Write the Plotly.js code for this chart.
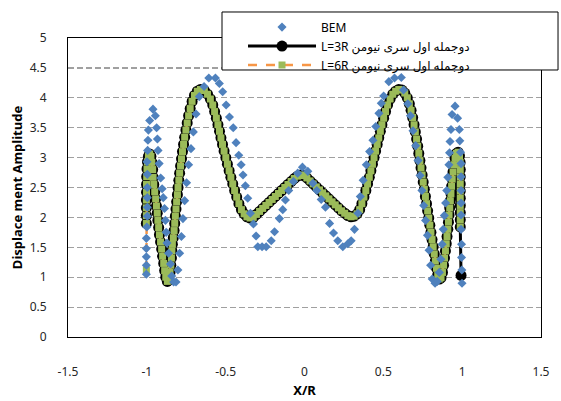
<!DOCTYPE html>
<html>
<head>
<meta charset="utf-8">
<script src="https://cdn.plot.ly/plotly-3.0.1.min.js"></script>
<style>html,body{margin:0;padding:0;background:#fff}#chart{width:561px;height:401px}</style>
</head>
<body>
<div id="chart"></div>
<script>
// BEM series
const bemX = [-1.003,-1.003,-1.003,-1.003,-1.003,-1.0,-0.997,-0.997,-0.997,-0.997,-0.997,-0.999,-0.995,-0.993,-0.99,-0.982,-0.961,-0.946,-0.938,-0.933,-0.929,-0.922,-0.912,-0.903,-0.896,-0.888,-0.882,-0.877,-0.872,-0.862,-0.85,-0.842,-0.83,-0.815,-0.803,-0.792,-0.781,-0.771,-0.76,-0.748,-0.735,-0.72,-0.705,-0.688,-0.667,-0.637,-0.607,-0.565,-0.54,-0.519,-0.497,-0.476,-0.452,-0.434,-0.417,-0.402,-0.39,-0.375,-0.36,-0.343,-0.324,-0.307,-0.296,-0.269,-0.243,-0.211,-0.19,-0.159,-0.138,-0.121,-0.1,-0.07,-0.043,-0.013,0.021,0.053,0.078,0.106,0.133,0.159,0.184,0.211,0.243,0.275,0.296,0.317,0.339,0.354,0.372,0.392,0.413,0.434,0.452,0.472,0.487,0.502,0.535,0.571,0.614,0.628,0.655,0.672,0.688,0.705,0.72,0.733,0.745,0.756,0.768,0.78,0.79,0.8,0.81,0.828,0.842,0.855,0.865,0.873,0.88,0.887,0.895,0.902,0.909,0.916,0.92,0.923,0.929,0.936,0.955,0.971,0.982,0.985,0.99,0.993,0.993,0.993,0.993,0.993,0.993,0.996,0.996,0.998,0.999];
const bemY = [1.05,1.2,1.34,1.48,1.65,1.84,2.02,2.17,2.33,2.5,2.72,2.93,3.12,3.29,3.46,3.62,3.81,3.7,3.5,3.31,3.12,2.9,2.66,2.48,2.33,2.15,1.95,1.75,1.57,1.4,1.22,1.02,0.92,0.92,1.12,1.4,1.68,1.98,2.28,2.58,2.88,3.15,3.43,3.73,4.02,4.19,4.33,4.33,4.24,4.1,3.88,3.68,3.5,3.25,3.04,2.88,2.71,2.53,2.32,2.07,1.89,1.69,1.51,1.51,1.51,1.61,1.76,1.98,2.13,2.29,2.45,2.6,2.74,2.84,2.77,2.57,2.45,2.3,2.17,1.9,1.74,1.61,1.51,1.56,1.61,1.8,2.07,2.35,2.62,2.88,3.1,3.29,3.52,3.74,3.91,4.03,4.27,4.33,4.34,4.13,3.9,3.7,3.45,3.2,2.95,2.7,2.45,2.2,1.95,1.7,1.45,1.2,0.97,0.9,0.93,1.08,1.3,1.55,1.8,2.03,2.24,2.45,2.67,2.88,3.08,3.27,3.47,3.72,3.86,3.66,3.47,3.28,3.09,2.9,2.68,2.45,2.24,2.04,1.8,1.55,1.33,1.12,0.9];

// Neumann series, first two terms, L=3R
const l3X = [-1.003,-1.003,-1.003,-1.003,-1.002,-1.002,-1.001,-0.999,-0.996,-0.99,-0.982,-0.974,-0.968,-0.963,-0.96,-0.956,-0.95,-0.944,-0.939,-0.934,-0.93,-0.925,-0.92,-0.913,-0.906,-0.9,-0.893,-0.887,-0.88,-0.87,-0.86,-0.853,-0.848,-0.844,-0.841,-0.838,-0.832,-0.827,-0.823,-0.819,-0.815,-0.811,-0.806,-0.802,-0.797,-0.792,-0.786,-0.78,-0.774,-0.767,-0.76,-0.752,-0.744,-0.735,-0.725,-0.713,-0.698,-0.68,-0.66,-0.635,-0.615,-0.597,-0.582,-0.57,-0.559,-0.549,-0.539,-0.53,-0.52,-0.51,-0.499,-0.489,-0.478,-0.467,-0.455,-0.443,-0.43,-0.416,-0.4,-0.383,-0.365,-0.345,-0.325,-0.305,-0.285,-0.265,-0.245,-0.225,-0.205,-0.185,-0.165,-0.145,-0.125,-0.105,-0.085,-0.065,-0.045,-0.025,-0.005,0.015,0.035,0.055,0.075,0.095,0.115,0.135,0.155,0.175,0.195,0.215,0.235,0.255,0.275,0.295,0.315,0.333,0.35,0.364,0.377,0.389,0.4,0.411,0.421,0.431,0.441,0.451,0.461,0.471,0.481,0.491,0.502,0.514,0.527,0.543,0.56,0.578,0.598,0.618,0.636,0.652,0.665,0.676,0.686,0.695,0.703,0.711,0.718,0.725,0.732,0.739,0.746,0.753,0.76,0.767,0.774,0.781,0.788,0.795,0.802,0.809,0.816,0.823,0.83,0.837,0.845,0.855,0.866,0.875,0.882,0.888,0.894,0.899,0.904,0.909,0.913,0.917,0.921,0.925,0.929,0.933,0.937,0.942,0.948,0.955,0.964,0.974,0.983,0.987,0.988,0.988,0.988,0.988,0.988,0.988,0.988,0.988,0.988,0.993];
const l3Y = [1.9,2.03,2.16,2.29,2.42,2.55,2.68,2.81,2.93,3.02,3.06,3.02,2.92,2.8,2.67,2.55,2.43,2.31,2.19,2.07,1.95,1.83,1.71,1.59,1.47,1.35,1.23,1.11,1.0,0.93,0.97,1.08,1.2,1.32,1.44,1.55,1.66,1.78,1.9,2.02,2.14,2.26,2.38,2.5,2.62,2.74,2.86,2.98,3.1,3.22,3.34,3.46,3.58,3.7,3.82,3.94,4.04,4.11,4.14,4.12,4.06,3.98,3.88,3.77,3.66,3.55,3.44,3.33,3.22,3.11,3.0,2.89,2.78,2.67,2.56,2.45,2.34,2.23,2.13,2.06,2.01,1.99,2.0,2.05,2.1,2.15,2.2,2.25,2.3,2.35,2.4,2.45,2.5,2.55,2.6,2.65,2.69,2.71,2.7,2.66,2.61,2.56,2.51,2.46,2.41,2.36,2.31,2.26,2.21,2.16,2.11,2.07,2.03,2.01,2.02,2.06,2.13,2.23,2.34,2.45,2.56,2.67,2.78,2.89,3.0,3.11,3.22,3.33,3.44,3.55,3.66,3.77,3.88,3.98,4.06,4.11,4.14,4.13,4.08,4.0,3.9,3.79,3.67,3.55,3.43,3.31,3.19,3.07,2.95,2.83,2.71,2.59,2.47,2.35,2.23,2.11,1.99,1.87,1.75,1.63,1.51,1.39,1.27,1.15,1.04,0.97,0.99,1.08,1.2,1.32,1.44,1.56,1.68,1.8,1.92,2.04,2.16,2.28,2.4,2.52,2.64,2.76,2.88,2.99,3.07,3.09,3.03,2.92,2.8,2.68,2.56,2.44,2.32,2.2,2.08,1.96,1.84,1.03];

// Neumann series, first two terms, L=6R
const l6X = [-1.003,-1.003,-1.003,-1.003,-1.003,-1.002,-1.002,-1.001,-0.999,-0.996,-0.99,-0.982,-0.974,-0.968,-0.963,-0.96,-0.956,-0.95,-0.944,-0.939,-0.934,-0.93,-0.925,-0.92,-0.913,-0.906,-0.9,-0.893,-0.887,-0.88,-0.87,-0.86,-0.853,-0.848,-0.844,-0.841,-0.838,-0.832,-0.827,-0.823,-0.819,-0.815,-0.811,-0.806,-0.802,-0.797,-0.792,-0.786,-0.78,-0.774,-0.767,-0.76,-0.752,-0.744,-0.735,-0.725,-0.713,-0.698,-0.68,-0.66,-0.635,-0.615,-0.597,-0.582,-0.57,-0.559,-0.549,-0.539,-0.53,-0.52,-0.51,-0.499,-0.489,-0.478,-0.467,-0.455,-0.443,-0.43,-0.416,-0.4,-0.383,-0.365,-0.345,-0.325,-0.305,-0.285,-0.265,-0.245,-0.225,-0.205,-0.185,-0.165,-0.145,-0.125,-0.105,-0.085,-0.065,-0.045,-0.025,-0.005,0.015,0.035,0.055,0.075,0.095,0.115,0.135,0.155,0.175,0.195,0.215,0.235,0.255,0.275,0.295,0.315,0.333,0.35,0.364,0.377,0.389,0.4,0.411,0.421,0.431,0.441,0.451,0.461,0.471,0.481,0.491,0.502,0.514,0.527,0.543,0.56,0.578,0.598,0.618,0.636,0.652,0.665,0.676,0.686,0.695,0.703,0.711,0.718,0.725,0.732,0.739,0.746,0.753,0.76,0.767,0.774,0.781,0.788,0.795,0.802,0.809,0.816,0.823,0.83,0.837,0.845,0.855,0.866,0.875,0.882,0.888,0.894,0.899,0.904,0.909,0.913,0.917,0.921,0.925,0.929,0.933,0.937,0.942,0.948,0.955,0.964,0.974,0.983,0.987,0.988,0.988,0.988,0.988,0.988,0.988,0.988,0.988,0.988];
const l6Y = [1.12,1.9,2.03,2.16,2.29,2.42,2.55,2.68,2.81,2.93,3.02,3.06,3.02,2.92,2.8,2.67,2.55,2.43,2.31,2.19,2.07,1.95,1.83,1.71,1.59,1.47,1.35,1.23,1.11,1.0,0.93,0.97,1.08,1.2,1.32,1.44,1.55,1.66,1.78,1.9,2.02,2.14,2.26,2.38,2.5,2.62,2.74,2.86,2.98,3.1,3.22,3.34,3.46,3.58,3.7,3.82,3.94,4.04,4.11,4.14,4.12,4.06,3.98,3.88,3.77,3.66,3.55,3.44,3.33,3.22,3.11,3.0,2.89,2.78,2.67,2.56,2.45,2.34,2.23,2.13,2.06,2.01,1.99,2.0,2.05,2.1,2.15,2.2,2.25,2.3,2.35,2.4,2.45,2.5,2.55,2.6,2.65,2.69,2.71,2.7,2.66,2.61,2.56,2.51,2.46,2.41,2.36,2.31,2.26,2.21,2.16,2.11,2.07,2.03,2.01,2.02,2.06,2.13,2.23,2.34,2.45,2.56,2.67,2.78,2.89,3.0,3.11,3.22,3.33,3.44,3.55,3.66,3.77,3.88,3.98,4.06,4.11,4.14,4.13,4.08,4.0,3.9,3.79,3.67,3.55,3.43,3.31,3.19,3.07,2.95,2.83,2.71,2.59,2.47,2.35,2.23,2.11,1.99,1.87,1.75,1.63,1.51,1.39,1.27,1.15,1.04,0.97,0.99,1.08,1.2,1.32,1.44,1.56,1.68,1.8,1.92,2.04,2.16,2.28,2.4,2.52,2.64,2.76,2.88,2.99,3.07,3.09,3.03,2.92,2.8,2.68,2.56,2.44,2.32,2.2,2.08,1.96,1.84];

const seriesNames = ["BEM", "L=3R دوجمله اول سری نیومن", "L=6R دوجمله اول سری نیومن"];
const xTickVals = [-1.5,-1,-0.5,0,0.5,1,1.5];
const xTickText = ["-1.5","-1","-0.5","0","0.5","1","1.5"];
const yTickVals = [0,0.5,1,1.5,2,2.5,3,3.5,4,4.5,5];
const yTickText = ["0","0.5","1","1.5","2","2.5","3","3.5","4","4.5","5"];

const FONT = "Noto Sans, DejaVu Sans, sans-serif";

const traces = [
  {x: l3X, y: l3Y, name: seriesNames[1], type: "scatter", mode: "lines+markers",
   line: {color: "#000000", width: 3},
   marker: {symbol: "circle", size: 11, color: "#000000"}, legendrank: 2},
  {x: l6X, y: l6Y, name: seriesNames[2], type: "scatter", mode: "lines+markers",
   line: {color: "#F79646", width: 2.5, dash: "dash"},
   marker: {symbol: "square", size: 7, color: "#9BBB59"}, legendrank: 3},
  {x: bemX, y: bemY, name: seriesNames[0], type: "scatter", mode: "markers",
   marker: {symbol: "diamond", size: 7, color: "#4F81BD"}, legendrank: 1}
];

const layout = {
  width: 561, height: 401,
  margin: {l: 68, r: 20, t: 38, b: 64, autoexpand: false},
  paper_bgcolor: "#ffffff", plot_bgcolor: "#ffffff",
  font: {family: FONT, size: 12, color: "#262626"},
  showlegend: true,
  legend: {x: 0.37, y: 1.085, xanchor: "left", yanchor: "top",
    bgcolor: "rgba(0,0,0,0)", borderwidth: 0, itemwidth: 68,
    font: {family: FONT, size: 12, color: "#000"}, tracegroupgap: 0},
  xaxis: {range: [-1.5, 1.5], tickmode: "array", tickvals: xTickVals, ticktext: xTickText,
    showgrid: false, zeroline: false, showline: true, mirror: true, linecolor: "#000", linewidth: 1,
    ticks: "", ticklabelstandoff: 24, tickfont: {size: 12, color: "#262626"},
    title: {text: "<b>X/R</b>", font: {size: 13, color: "#000"}, standoff: 6}},
  yaxis: {range: [0, 5], tickmode: "array", tickvals: yTickVals, ticktext: yTickText,
    showgrid: true, gridcolor: "#A0A0A0", griddash: "6px,3px", gridwidth: 1.2,
    zeroline: false, showline: true, mirror: true, linecolor: "#000", linewidth: 1,
    ticks: "", ticklabelstandoff: 18, tickfont: {size: 12, color: "#262626"},
    title: {text: "<b>Displace ment Amplitude</b>", font: {size: 13, color: "#000"}, standoff: 4}},
  shapes: [{type: "rect", xref: "paper", yref: "paper", x0: 0.3256, x1: 1.036, y0: 0.893, y1: 1.087,
    fillcolor: "#ffffff", line: {color: "#000", width: 1}, layer: "above"}]
};

Plotly.newPlot("chart", traces, layout, {displayModeBar: false, staticPlot: true});
</script>
</body>
</html>
